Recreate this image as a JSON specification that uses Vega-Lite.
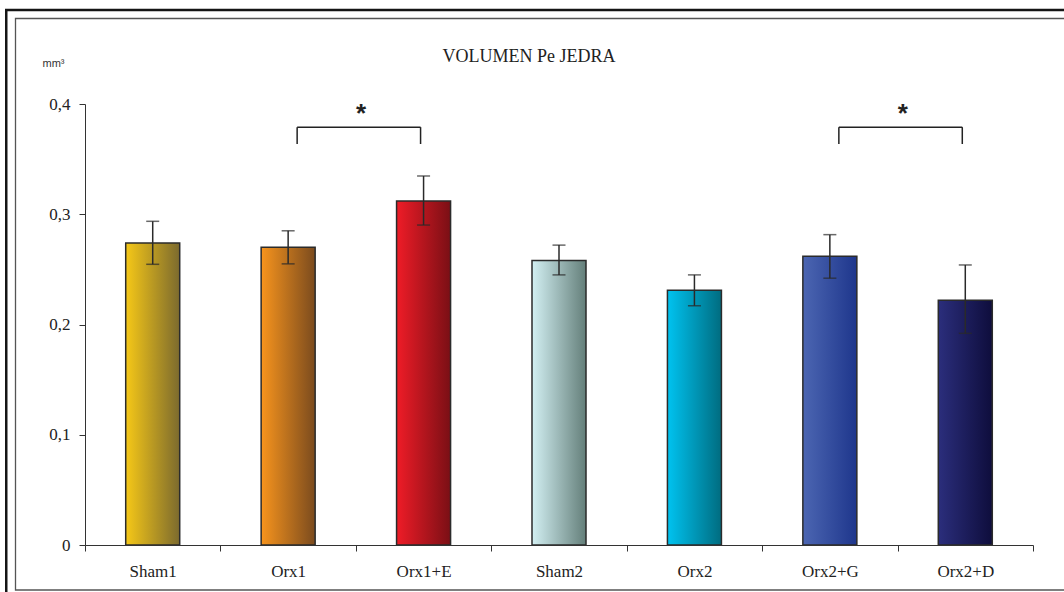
{
  "$schema": "https://vega.github.io/schema/vega-lite/v6.json",
  "width": 1058,
  "height": 582,
  "autosize": {"type": "none"},
  "padding": {"left": 6, "top": 10, "right": 0, "bottom": 0},
  "background": "white",
  "config": {"view": {"stroke": null}},
  "title": {"text": "VOLUMEN Pe JEDRA", "frame": "group", "anchor": "middle", "offset": -66, "dx": -6, "baseline": "middle", "font": "Liberation Serif", "fontSize": 18, "fontWeight": "normal", "color": "#222", "zindex": 2},
  "datasets": {
    "bars": [
      {"g": "Sham1", "v": 0.274, "lo": 0.2546, "hi": 0.2936},
      {"g": "Orx1", "v": 0.270, "lo": 0.255, "hi": 0.285},
      {"g": "Orx1+E", "v": 0.312, "lo": 0.2902, "hi": 0.3347},
      {"g": "Sham2", "v": 0.258, "lo": 0.245, "hi": 0.272},
      {"g": "Orx2", "v": 0.231, "lo": 0.217, "hi": 0.245},
      {"g": "Orx2+G", "v": 0.262, "lo": 0.242, "hi": 0.2815},
      {"g": "Orx2+D", "v": 0.222, "lo": 0.192, "hi": 0.254}
    ],
    "sig": [
      {"a": "Orx1", "b": "Orx1+E", "top": 0.379, "bot": 0.3637, "star": 0.3837, "s": "*"},
      {"a": "Orx2+G", "b": "Orx2+D", "top": 0.379, "bot": 0.3637, "star": 0.3837, "s": "*"}
    ],
    "frame": [{"f": 1}]
  },
  "resolve": {"scale": {"x": "independent"}, "axis": {"x": "independent"}},
  "layer": [
    {"data": {"name": "frame"}, "mark": {"type": "rect", "fill": "#151515", "xOffset": -1},
      "encoding": {
        "x": {"datum": 0, "type": "quantitative", "scale": {"domain": [0, 1], "nice": false, "zero": false}, "axis": null},
        "x2": {"datum": 1.1},
        "y": {"datum": 0.48639, "type": "quantitative", "title": "mm³", "scale": {"domain": [0, 0.4], "range": [535, 94], "nice": false, "zero": true}}, "y2": {"datum": -0.1}}},
    {"data": {"name": "frame"}, "mark": {"type": "rect", "fill": "white", "xOffset": 1.5, "yOffset": 2.5},
      "encoding": {
        "x": {"datum": 0, "type": "quantitative", "scale": {"domain": [0, 1], "nice": false, "zero": false}, "axis": null},
        "x2": {"datum": 1.1},
        "y": {"datum": 0.48639, "type": "quantitative", "title": "mm³", "scale": {"domain": [0, 0.4], "range": [535, 94], "nice": false, "zero": true}}, "y2": {"datum": -0.1}}},
    {"data": {"name": "frame"}, "mark": {"type": "rect", "fill": "transparent", "stroke": "#555", "strokeWidth": 1.3, "xOffset": 9.5},
      "encoding": {
        "x": {"datum": 0, "type": "quantitative", "scale": {"domain": [0, 1], "nice": false, "zero": false}, "axis": null},
        "x2": {"datum": 1.1},
        "y": {"datum": 0.47755, "type": "quantitative", "title": "mm³", "scale": {"domain": [0, 0.4], "range": [535, 94], "nice": false, "zero": true}}, "y2": {"datum": -0.04082}}},
    {
      "encoding": {
        "x": {"field": "g", "type": "nominal", "sort": null, "title": null,
          "scale": {"domain": ["Sham1", "Orx1", "Orx1+E", "Sham2", "Orx2", "Orx2+G", "Orx2+D"], "range": [79, 1027], "paddingInner": 0, "paddingOuter": 0},
          "axis": {"orient": "bottom", "offset": -47, "zindex": 1, "tickBand": "extent", "labelAngle": 0, "labelFont": "Liberation Serif", "labelFontSize": 17, "labelColor": "#222", "labelPadding": 12, "tickSize": 6, "tickColor": "#333", "domainColor": "#333", "tickWidth": 1, "domainWidth": 1, "grid": false}},
        "y": {"field": "v", "type": "quantitative", "title": "mm³",
          "scale": {"domain": [0, 0.4], "range": [535, 94], "nice": false, "zero": true},
          "axis": {"orient": "left", "offset": -79, "zindex": 1, "values": [0, 0.1, 0.2, 0.3, 0.4], "labelExpr": "datum.value == 0 ? '0' : replace(format(datum.value, '.1f'), '.', ',')", "labelFont": "Liberation Serif", "labelFontSize": 17, "labelColor": "#222", "labelPadding": 9, "tickSize": 6, "tickColor": "#333", "domainColor": "#333", "grid": false, "titleAngle": 0, "titleX": -32, "titleY": 53, "titleFont": "Liberation Sans", "titleFontSize": 11, "titleFontWeight": "normal", "titleAlign": "center", "titleBaseline": "middle", "titleColor": "#333"}}
      },
      "layer": [
        {"data": {"name": "bars"}, "transform": [{"filter": "datum.g === 'Sham1'"}], "mark": {"type": "bar", "size": 54, "stroke": "#2b2b2b", "strokeWidth": 1.5, "fill": {"gradient": "linear", "x1": 0, "y1": 0, "x2": 1, "y2": 0, "stops": [{"offset": 0, "color": "#f6c817"}, {"offset": 1, "color": "#7c6a2e"}]}}},
        {"data": {"name": "bars"}, "transform": [{"filter": "datum.g === 'Orx1'"}], "mark": {"type": "bar", "size": 54, "stroke": "#2b2b2b", "strokeWidth": 1.5, "fill": {"gradient": "linear", "x1": 0, "y1": 0, "x2": 1, "y2": 0, "stops": [{"offset": 0, "color": "#f7941d"}, {"offset": 1, "color": "#7b4b1e"}]}}},
        {"data": {"name": "bars"}, "transform": [{"filter": "datum.g === 'Orx1+E'"}], "mark": {"type": "bar", "size": 54, "stroke": "#2b2b2b", "strokeWidth": 1.5, "fill": {"gradient": "linear", "x1": 0, "y1": 0, "x2": 1, "y2": 0, "stops": [{"offset": 0, "color": "#ef1c27"}, {"offset": 1, "color": "#7a0f15"}]}}},
        {"data": {"name": "bars"}, "transform": [{"filter": "datum.g === 'Sham2'"}], "mark": {"type": "bar", "size": 54, "stroke": "#2b2b2b", "strokeWidth": 1.5, "fill": {"gradient": "linear", "x1": 0, "y1": 0, "x2": 1, "y2": 0, "stops": [{"offset": 0, "color": "#d3f0f3"}, {"offset": 1, "color": "#647f7a"}]}}},
        {"data": {"name": "bars"}, "transform": [{"filter": "datum.g === 'Orx2'"}], "mark": {"type": "bar", "size": 54, "stroke": "#2b2b2b", "strokeWidth": 1.5, "fill": {"gradient": "linear", "x1": 0, "y1": 0, "x2": 1, "y2": 0, "stops": [{"offset": 0, "color": "#00c3f0"}, {"offset": 1, "color": "#006c80"}]}}},
        {"data": {"name": "bars"}, "transform": [{"filter": "datum.g === 'Orx2+G'"}], "mark": {"type": "bar", "size": 54, "stroke": "#2b2b2b", "strokeWidth": 1.5, "fill": {"gradient": "linear", "x1": 0, "y1": 0, "x2": 1, "y2": 0, "stops": [{"offset": 0, "color": "#4c66b2"}, {"offset": 1, "color": "#1e368c"}]}}},
        {"data": {"name": "bars"}, "transform": [{"filter": "datum.g === 'Orx2+D'"}], "mark": {"type": "bar", "size": 54, "stroke": "#2b2b2b", "strokeWidth": 1.5, "fill": {"gradient": "linear", "x1": 0, "y1": 0, "x2": 1, "y2": 0, "stops": [{"offset": 0, "color": "#2b2e7c"}, {"offset": 1, "color": "#0e0d3c"}]}}},
        {"data": {"name": "bars"}, "mark": {"type": "rule", "color": "#2a2a2a", "strokeWidth": 1.5},
          "encoding": {"y": {"field": "lo", "type": "quantitative", "title": "mm³"}, "y2": {"field": "hi"}}},
        {"data": {"name": "bars"}, "mark": {"type": "tick", "color": "#2a2a2a", "size": 13, "thickness": 1.5},
          "encoding": {"y": {"field": "lo", "type": "quantitative", "title": "mm³"}}},
        {"data": {"name": "bars"}, "mark": {"type": "tick", "color": "#2a2a2a", "size": 13, "thickness": 1.5},
          "encoding": {"y": {"field": "hi", "type": "quantitative", "title": "mm³"}}},
        {"data": {"name": "sig"}, "mark": {"type": "rule", "color": "#222", "strokeWidth": 1.5, "xOffset": 9, "x2Offset": -3},
          "encoding": {"x": {"field": "a", "type": "nominal", "title": null, "sort": null, "scale": {"domain": ["Sham1", "Orx1", "Orx1+E", "Sham2", "Orx2", "Orx2+G", "Orx2+D"]}}, "x2": {"field": "b"}, "y": {"field": "top", "type": "quantitative", "title": "mm³"}}},
        {"data": {"name": "sig"}, "mark": {"type": "rule", "color": "#222", "strokeWidth": 1.5, "xOffset": 9},
          "encoding": {"x": {"field": "a", "type": "nominal", "title": null, "sort": null, "scale": {"domain": ["Sham1", "Orx1", "Orx1+E", "Sham2", "Orx2", "Orx2+G", "Orx2+D"]}}, "y": {"field": "top", "type": "quantitative", "title": "mm³"}, "y2": {"field": "bot"}}},
        {"data": {"name": "sig"}, "mark": {"type": "rule", "color": "#222", "strokeWidth": 1.5, "xOffset": -3},
          "encoding": {"x": {"field": "b", "type": "nominal", "title": null, "sort": null, "scale": {"domain": ["Sham1", "Orx1", "Orx1+E", "Sham2", "Orx2", "Orx2+G", "Orx2+D"]}}, "y": {"field": "top", "type": "quantitative", "title": "mm³"}, "y2": {"field": "bot"}}},
        {"data": {"name": "sig"}, "mark": {"type": "text", "font": "Liberation Sans", "fontWeight": "bold", "fontSize": 26, "dx": 73, "align": "center", "baseline": "alphabetic", "color": "#222"},
          "encoding": {"x": {"field": "a", "type": "nominal", "title": null, "sort": null, "scale": {"domain": ["Sham1", "Orx1", "Orx1+E", "Sham2", "Orx2", "Orx2+G", "Orx2+D"]}}, "y": {"field": "star", "type": "quantitative", "title": "mm³"}, "text": {"field": "s"}}}
      ]
    }
  ]
}
